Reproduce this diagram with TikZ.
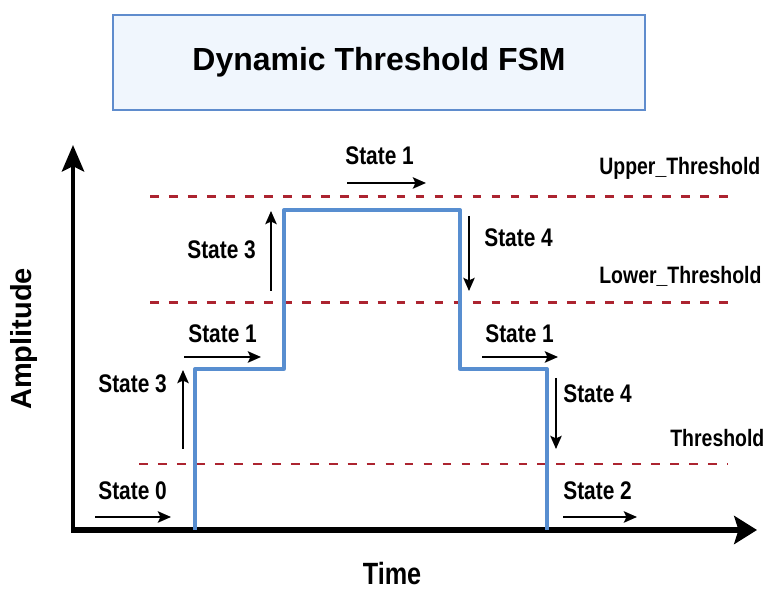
\documentclass[tikz,border=0pt]{standalone}
\usepackage{fontspec}
\setmainfont{Liberation Sans}
\newfontfamily\narrowfont[FakeStretch=0.82]{Liberation Sans}
\usepackage{tikz}
\usetikzlibrary{
  arrows.meta
  , positioning
}
\definecolor{titlefill}{RGB}{240,246,253}
\definecolor{titleline}{RGB}{95,140,205}
\definecolor{sigblue}{RGB}{88,142,208}
\definecolor{threshred}{RGB}{172,36,48}

\begin{document}
\begin{tikzpicture}[
    x=0.02cm, y=-0.02cm,
    statelbl/.style={font=\narrowfont\bfseries\fontsize{14.5}{16}\selectfont,
      anchor=base west, inner sep=0pt},
    levellbl/.style={font=\narrowfont\bfseries\fontsize{13.5}{15}\selectfont,
      anchor=base west, inner sep=0pt},
    thresh/.style={draw=threshred, line width=1.7pt,
      dash pattern=on 5pt off 5.8pt},
    statearrow/.style={line width=1.1pt, -{Stealth[length=7.5pt,width=6.5pt,inset=1.5pt]}},
    signal/.style={draw=sigblue, line width=1.9pt, line join=round}
  ]
      \useasboundingbox (0,0) rectangle (765,590);

      % title
      \node [draw=titleline,
        fill=titlefill,
        line width=1.3pt,
        minimum width=10.64cm,
        minimum height=1.9cm,
        font=\bfseries\fontsize{18.2}{20}\selectfont] (title) at (379,62.5) {Dynamic Threshold FSM};

      % axes
      \coordinate (O) at (73,530);
      \coordinate (Ytip) at (73,145);
      \coordinate (Xtip) at (757,530);
      \draw [line width=2.8pt, -{Stealth[length=15pt,width=12.5pt,inset=3pt]}] (73,533) -- (Ytip);
      \draw [line width=3.8pt, -{Stealth[length=13pt,width=16pt,inset=2.5pt]}] (71,530) -- (Xtip);
      \node [font=\bfseries\fontsize{16.5}{18}\selectfont, rotate=90] (amp) at (24,339) {Amplitude};
      \node [font=\narrowfont\bfseries\fontsize{17.5}{19}\selectfont,
        anchor=base, inner sep=0pt] (time) at (392,585) {Time};

      % threshold levels
      \draw [thresh] (150,197) -- (733,197);
      \draw [thresh] (150,303) -- (733,303);
      \draw [thresh] (139,464) -- (728,464);
      \node [levellbl] (upper) at (599,175) {Upper\_Threshold};
      \node [levellbl] (lower) at (599,284) {Lower\_Threshold};
      \node [levellbl] (thr) at (670,447) {Threshold};

      % signal
      \coordinate (S1) at (195,530);
      \coordinate (S2) at (195,369);
      \coordinate (S3) at (284,369);
      \coordinate (S4) at (284,210);
      \coordinate (S5) at (460,210);
      \coordinate (S6) at (460,369);
      \coordinate (S7) at (547,369);
      \coordinate (S8) at (547,530);
      \draw [signal] (S1) -- (S2) -- (S3) -- (S4) -- (S5) -- (S6) -- (S7) -- (S8);

      % states
      \node [statelbl] (st0) at (98,500) {State 0};
      \coordinate (a0s) at (95,517);
      \coordinate (a0e) at (171,517);
      \draw [statearrow] (a0s) -- (a0e);

      \node [statelbl] (st3a) at (98,393) {State 3};
      \coordinate (a3s) at (183,449);
      \coordinate (a3e) at (183,370);
      \draw [statearrow] (a3s) -- (a3e);

      \node [statelbl] (st1a) at (188,343) {State 1};
      \coordinate (a1s) at (184,357);
      \coordinate (a1e) at (261,357);
      \draw [statearrow] (a1s) -- (a1e);

      \node [statelbl] (st3b) at (187,259) {State 3};
      \coordinate (b3s) at (271,291);
      \coordinate (b3e) at (271,211);
      \draw [statearrow] (b3s) -- (b3e);

      \node [statelbl] (st1b) at (345,165) {State 1};
      \coordinate (b1s) at (347,183);
      \coordinate (b1e) at (426,183);
      \draw [statearrow] (b1s) -- (b1e);

      \node [statelbl] (st4a) at (484,247) {State 4};
      \coordinate (a4s) at (469,216);
      \coordinate (a4e) at (469,291);
      \draw [statearrow] (a4s) -- (a4e);

      \node [statelbl] (st1c) at (485,343) {State 1};
      \coordinate (c1s) at (482,357);
      \coordinate (c1e) at (558,357);
      \draw [statearrow] (c1s) -- (c1e);

      \node [statelbl] (st4b) at (563,403) {State 4};
      \coordinate (b4s) at (556,378);
      \coordinate (b4e) at (556,449);
      \draw [statearrow] (b4s) -- (b4e);

      \node [statelbl] (st2) at (563,500) {State 2};
      \coordinate (a2s) at (563,517);
      \coordinate (a2e) at (637,517);
      \draw [statearrow] (a2s) -- (a2e);
    \end{tikzpicture}
\end{document}
